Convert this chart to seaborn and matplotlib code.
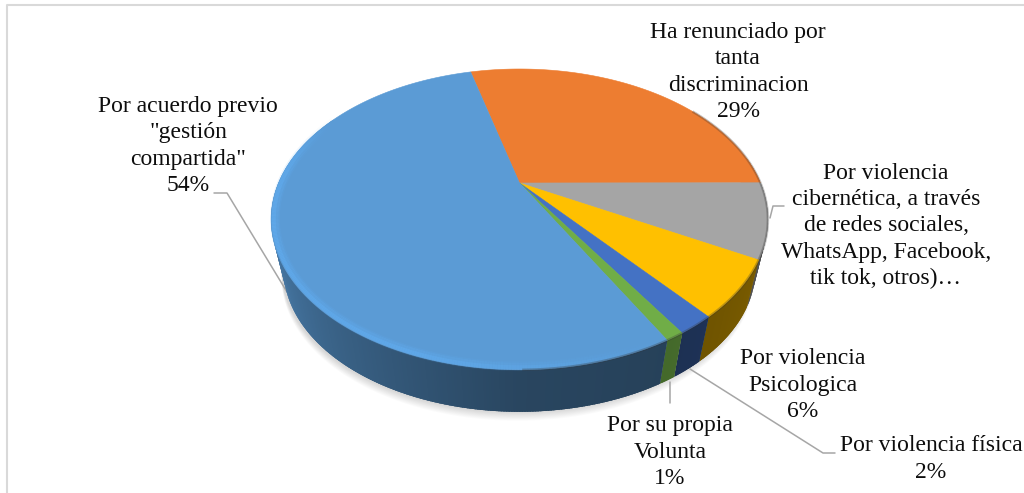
import numpy as np
import matplotlib
matplotlib.use("Agg")
import matplotlib.pyplot as plt
from matplotlib.collections import LineCollection
from matplotlib.patches import Polygon
import seaborn as sns

# Data
categories = [
    "Ha renunciado por\ntanta\ndiscriminacion",
    "Por violencia\ncibernética, a través\nde redes sociales,\nWhatsApp, Facebook,\ntik tok, otros)…",
    "Por violencia\nPsicologica",
    "Por violencia física",
    "Por su propia\nVolunta",
    'Por acuerdo previo\n"gestión\ncompartida"',
]
values = [29, 8, 6, 2, 1, 54]
show_value = [True, False, True, True, True, True]  # the long label got cut off before its %
colors = ["#ED7D31", "#A5A5A5", "#FFC000", "#4472C4", "#70AD47", "#5B9BD5"]
wall_boost = [1, 1, 1, 1, 1.45, 1]  # green side is lighter in the original

# label centres in picture pixels
label_x = [738, 886, 803, 931, 670, 188]
label_y = [72, 226, 385, 459, 452, 146]

# leader lines
leaders = [
    [(214, 193), (227, 193), (287, 292)],
    [(784, 206), (773, 206), (770, 218)],
    [(670, 382), (670, 403)],
    [(690, 369), (823, 453), (835, 453)],
]

# pie geometry, picture pixels
CX, CY = 519.5, 183
A, B, K = 241, 141.6, 0.242
TOP_MID_Y, BOTTOM_MID_Y, BOTTOM_SCALE = 219, 268.5, 0.95

sns.set_theme(style="white")
plt.rcParams["font.family"] = ["Liberation Serif", "DejaVu Serif"]
palette = sns.color_palette(colors)


def project(theta_deg, r=1.0):
    t = np.radians(theta_deg)
    u, v = r * np.cos(t), r * np.sin(t)
    w = 1 + K * v
    return CX + A * u / w, CY - B * v / w


def lower(x, y):
    # same rim, one disc thickness further down and a bit smaller
    return CX + BOTTOM_SCALE * (x - CX), BOTTOM_MID_Y + BOTTOM_SCALE * (y - TOP_MID_Y)


def side_shade(theta_deg):
    a = np.mod(theta_deg, 360)
    return np.interp(a, [150, 180, 225, 270, 300, 330, 360], [0.92, 0.88, 0.66, 0.45, 0.42, 0.47, 0.55])


fig = plt.figure(figsize=(10.24, 4.93), dpi=100)
ax = fig.add_axes([0, 0, 1, 1])

# angles come from the pie itself, then get put in perspective
wedges, _ = ax.pie(values, startangle=104.5, counterclock=False, colors=palette)
spans = [(w.theta1, w.theta2) for w in wedges]
for w in wedges:
    w.remove()

ax.set_xlim(0, 1024)
ax.set_ylim(493, 0)
ax.set_aspect("auto")
ax.axis("off")

# chart frame, only top and left are in the picture
ax.plot([1024, 7, 7], [5, 5, 493], color="#d9d9d9", lw=1.5, zorder=0)

# soft shadow under the disc
full = np.linspace(0, 360, 361)
sx, sy = lower(*project(full))
for i in range(1, 11):
    ax.add_patch(Polygon(np.c_[sx - 2, sy + i * 0.9], fc="black", ec="none", alpha=0.014, zorder=1))

# side wall, strips overlap so no seams show
for (t1, t2), col, boost in zip(spans, palette, wall_boost):
    th = np.arange(t2, t1, -0.5)[::-1]
    th = np.r_[t1, th, t2] if len(th) else np.array([t1, t2])
    for a, b in zip(th[:-1], th[1:]):
        m = np.mod((a + b) / 2, 360)
        if 10 < m < 150:
            continue
        b2 = min(b + 0.8, t2)
        xa, ya = project(a)
        xb, yb = project(b2)
        xa2, ya2 = lower(xa, ya)
        xb2, yb2 = lower(xb, yb)
        c = tuple(np.clip(np.array(col) * side_shade(m) * boost, 0, 1))
        ax.add_patch(Polygon([(xa, ya), (xb, yb), (xb2, yb2), (xa2, ya2)], fc=c, ec="none", zorder=2))

# top face
for (t1, t2), col in zip(spans, palette):
    th = np.linspace(t1, t2, 200)
    x, y = project(th)
    pts = np.r_[[[CX, CY]], np.c_[x, y]]
    ax.add_patch(Polygon(pts, fc=col, ec=col, lw=0.4, zorder=3))

# bevel along the rim
for (t1, t2), col in zip(spans, palette):
    th = np.arange(t1, t2 + 0.5, 0.5)
    th[-1] = t2
    base = np.array(col)
    for r, lw, alpha in [(0.985, 7.0, 0.15), (0.985, 5.0, 0.25), (0.99, 3.0, 0.45)]:
        x, y = project(th, r)
        segs, cols = [], []
        for i in range(len(th) - 1):
            m = np.mod(th[i], 360)
            if 150 <= m <= 300:
                fade = min(1.0, (m - 150) / 25) * min(1.0, (300 - m) / 50)
                c = np.clip(base * 1.08 + np.array([0.0, 0.03, 0.05]), 0, 1)
                cols.append((*c, alpha * fade))
                segs.append([(x[i], y[i]), (x[i + 1], y[i + 1])])
        if segs:
            ax.add_collection(LineCollection(segs, colors=cols, linewidths=lw, zorder=4))
    # darker soft edge on the right hand side of the rim
    x, y = project(th, 1.0)
    segs, cols = [], []
    for i in range(len(th) - 1):
        m = np.mod(th[i], 360)
        if m > 270 or m < 35:
            segs.append([(x[i], y[i]), (x[i + 1], y[i + 1])])
            cols.append((0.2, 0.2, 0.2, 0.3))
    if segs:
        ax.add_collection(LineCollection(segs, colors=cols, linewidths=1.8, zorder=4))

# leader lines and labels
for pts in leaders:
    xs, ys = zip(*pts)
    ax.plot(xs, ys, color="#a6a6a6", lw=1.1, zorder=1.5)

for name, val, show, lx, ly in zip(categories, values, show_value, label_x, label_y):
    txt = f"{name}\n{val}%" if show else name
    ax.text(lx, ly, txt, ha="center", va="center", fontsize=17,
            linespacing=1.32, color="#0d0d0d", zorder=6)

fig.savefig("out.png", dpi=100)
